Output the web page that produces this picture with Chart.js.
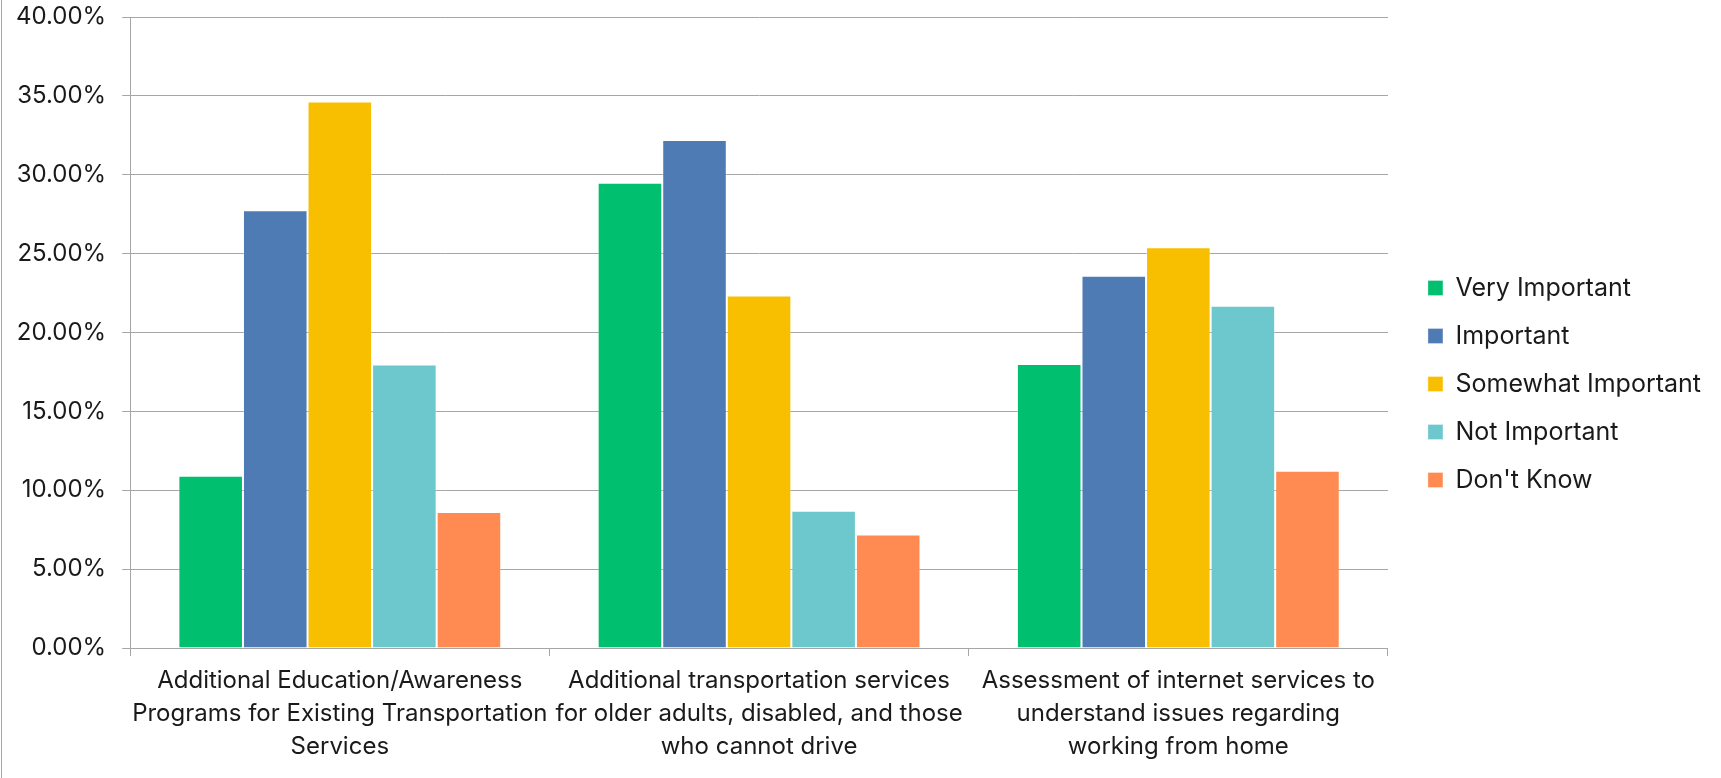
<html>
<head>
    <meta charset="UTF-8">
    <title>Importance survey</title>
    <script src="https://cdn.jsdelivr.net/npm/chart.js"></script>
    <style>
        html, body { margin: 0; padding: 0; background: #fff; }
        #wrap { width: 1721px; height: 778px; position: relative; }
    </style>
</head>
<body>
<div id="wrap">
    <canvas id="chart"></canvas>
</div>
<script>
    // categories (x labels, already split in lines like the original)
    const categories = [
        ["Additional Education/Awareness", "Programs for Existing Transportation", "Services"],
        ["Additional transportation services", "for older adults, disabled, and those", "who cannot drive"],
        ["Assessment of internet services to", "understand issues regarding", "working from home"]
    ];

    const seriesNames = ["Very Important", "Important", "Somewhat Important", "Not Important", "Don't Know"];

    // percentages per category
    const veryImportant = [10.92, 29.50, 18.00];
    const important = [27.75, 32.20, 23.60];
    const somewhatImportant = [34.65, 22.35, 25.40];
    const notImportant = [17.97, 8.70, 21.70];
    const dontKnow = [8.62, 7.20, 11.24];

    const yTicks = [0, 5, 10, 15, 20, 25, 30, 35, 40];

    const colours = ['#00bf6f', '#4f7bb4', '#f8be00', '#6dc8cd', '#ff8b52'];
    const values = [veryImportant, important, somewhatImportant, notImportant, dontKnow];

    const fontFamily = "Inter, 'DejaVu Sans', sans-serif";

    // left frame line + nudge legend to where excel puts it
    const extras = {
        id: 'extras',
        afterLayout(chart) {
            const lg = chart.legend;
            lg.left += 17;
            lg.right += 17;
            lg.top -= 10;
            lg.bottom -= 10;
        },
        beforeDraw(chart) {
            const ctx = chart.ctx;
            ctx.save();
            ctx.strokeStyle = '#a6a6a6';
            ctx.lineWidth = 1;
            ctx.beginPath();
            ctx.moveTo(1.5, 0);
            ctx.lineTo(1.5, chart.height);
            ctx.stroke();
            ctx.restore();
        }
    };

    window.chart = new Chart(document.getElementById('chart'), {
        type: 'bar',
        data: {
            labels: categories,
            datasets: seriesNames.map((name, i) => ({
                label: name,
                data: values[i],
                backgroundColor: colours[i],
                borderColor: 'rgba(255,255,255,0.3)',
                borderWidth: 1,
                categoryPercentage: 0.77,
                barPercentage: 1.0
            }))
        },
        options: {
            responsive: true,
            maintainAspectRatio: false,
            animation: false,
            layout: {
                padding: {top: 17, left: 0, right: 27, bottom: 7}
            },
            plugins: {
                tooltip: {enabled: false},
                legend: {
                    position: 'right',
                    align: 'center',
                    labels: {
                        boxWidth: 15,
                        boxHeight: 15,
                        padding: 23,
                        color: '#1a1a1a',
                        font: {family: fontFamily, size: 25}
                    }
                }
            },
            scales: {
                x: {
                    offset: true,
                    grid: {
                        offset: true,
                        drawOnChartArea: false,
                        drawTicks: true,
                        tickLength: 8,
                        color: '#a6a6a6'
                    },
                    border: {color: '#a6a6a6', width: 1},
                    ticks: {
                        autoSkip: false,
                        maxRotation: 0,
                        minRotation: 0,
                        padding: 8,
                        color: '#1a1a1a',
                        font: {family: fontFamily, size: 24, lineHeight: 1.375}
                    }
                },
                y: {
                    min: 0,
                    max: 40,
                    afterBuildTicks(axis) {
                        axis.ticks = yTicks.map(v => ({value: v}));
                    },
                    afterFit(axis) {
                        // no extra room above/below the plot for the labels
                        axis.paddingTop = 0;
                        axis.paddingBottom = 0;
                    },
                    grid: {
                        color: '#a6a6a6',
                        lineWidth: 1,
                        tickLength: 8
                    },
                    border: {color: '#a6a6a6', width: 1},
                    ticks: {
                        padding: 16,
                        color: '#1a1a1a',
                        font: {family: fontFamily, size: 24},
                        callback: v => v.toFixed(2) + '%'
                    }
                }
            }
        },
        plugins: [extras]
    });
</script>
</body>
</html>
